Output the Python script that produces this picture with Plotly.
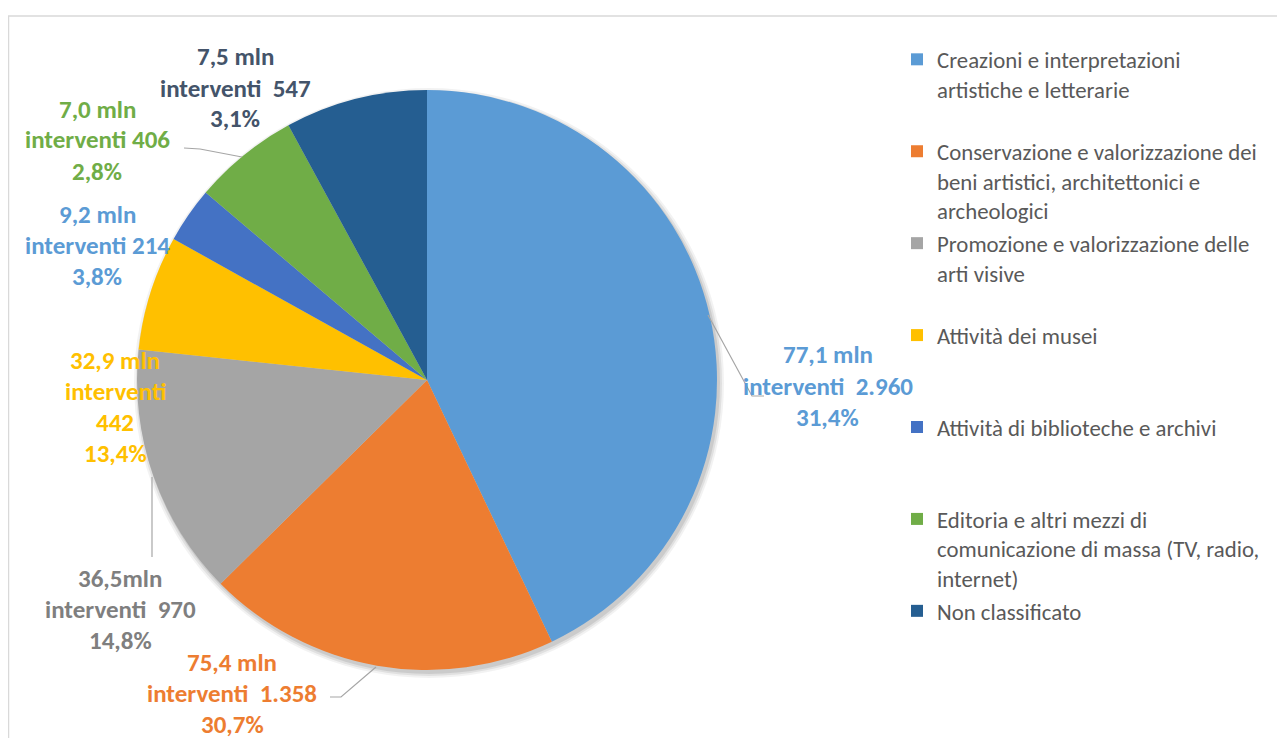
import plotly.graph_objects as go

W, H = 1285, 738
OFF = 8  # margine del body della pagina

# dati
categorie = [
    "Creazioni e interpretazioni<br>artistiche e letterarie",
    "Conservazione e valorizzazione dei<br>beni artistici, architettonici e<br>archeologici",
    "Promozione e valorizzazione delle<br>arti visive",
    "Attività dei musei",
    "Attività di biblioteche e archivi",
    "Editoria e altri mezzi di<br>comunicazione di massa (TV, radio,<br>internet)",
    "Non classificato",
]
interventi = [2960, 1358, 970, 442, 214, 406, 547]
interventi_txt = ["2.960", "1.358", "970", "442", "214", "406", "547"]
importi_mln = ["77,1", "75,4", "36,5", "32,9", "9,2", "7,0", "7,5"]
quote = ["31,4%", "30,7%", "14,8%", "13,4%", "3,8%", "2,8%", "3,1%"]

colori = ["#5B9BD5", "#ED7D31", "#A5A5A5", "#FFC000", "#4472C4", "#70AD47", "#255E91"]
colori_etichette = ["#5B9BD5", "#ED7D31", "#7F7F7F", "#FFC000", "#5B9BD5", "#70AD47", "#44546A"]


# coordinate dello schermo -> paper
def px(x):
    return (x - OFF) / W


def py(y):
    return 1 - (y - OFF) / H


# ogni voce di legenda occupa 3 righe per avere una spaziatura regolare
def pad(testo, righe=3):
    n = testo.count("<br>") + 1
    return testo + "<br>&nbsp;" * (righe - n)


fig = go.Figure()

fig.add_trace(go.Pie(
    labels=[pad(c) for c in categorie],
    values=interventi,
    sort=False,
    direction="clockwise",
    rotation=0,
    marker=dict(colors=colori, line=dict(width=0)),
    textinfo="none",
    hoverinfo="skip",
    domain=dict(x=[px(137), px(717)], y=[py(670), py(90)]),
))

# ombra leggera sotto la torta
for d, op in [(5, 0.05), (3, 0.07), (1, 0.09)]:
    fig.add_shape(type="circle", xref="paper", yref="paper",
                  x0=px(137 + 2 - d), x1=px(717 + 2 + d), y0=py(670 + 3 + d), y1=py(90 + 3 - d),
                  fillcolor="black", opacity=op, line=dict(width=0), layer="below")

# etichette: centro (px schermo), righe
pos_etichette = [(828, 386), (232, 693), (120, 609), (115, 407), (97, 245), (97, 140), (235, 88)]
righe = []
for i in range(len(interventi)):
    sep = " " if i in (4, 5) else "  "
    mln = importi_mln[i] + ("mln" if i == 2 else " mln")
    if i == 3:
        righe.append([mln, "interventi", interventi_txt[i], quote[i]])
    else:
        righe.append([mln, "interventi" + sep + interventi_txt[i], quote[i]])

passo = 31
for i, (cx, cy) in enumerate(pos_etichette):
    n = len(righe[i])
    for k, r in enumerate(righe[i]):
        y = cy + (k - (n - 1) / 2) * passo
        fig.add_annotation(
            x=px(cx), y=py(y), xref="paper", yref="paper",
            text="<b>" + r.replace(" ", "&nbsp;") + "</b>",
            showarrow=False, xanchor="center", yanchor="middle",
            font=dict(family="Calibri, Carlito, Lato", size=25, color=colori_etichette[i]),
        )

# linee di richiamo
linee = [
    [(708, 315), (752, 396), (764, 396)],
    [(330, 697), (341, 697), (376, 667)],
    [(152, 477), (152, 557)],
    [(184, 148), (200, 149), (242, 157)],
]
for pts in linee:
    path = "M " + " L ".join(f"{px(x)},{py(y)}" for x, y in pts)
    fig.add_shape(type="path", path=path, xref="paper", yref="paper",
                  line=dict(color="#A6A6A6", width=1.2))

# cornice del grafico
fig.add_shape(type="rect", xref="paper", yref="paper",
              x0=px(8.5), x1=px(1320), y0=py(780), y1=py(16),
              line=dict(color="#D9D9D9", width=1.5), layer="below")

fig.update_layout(
    width=W, height=H,
    margin=dict(l=0, r=0, t=0, b=0),
    paper_bgcolor="white",
    plot_bgcolor="white",
    showlegend=True,
    legend=dict(
        x=px(897), y=py(38), xanchor="left", yanchor="top",
        valign="top",
        font=dict(family="Calibri, Carlito, Lato", size=22.8, color="#595959"),
        bgcolor="rgba(0,0,0,0)",
        itemclick=False, itemdoubleclick=False,
    ),
)

fig.write_html("out.html")
